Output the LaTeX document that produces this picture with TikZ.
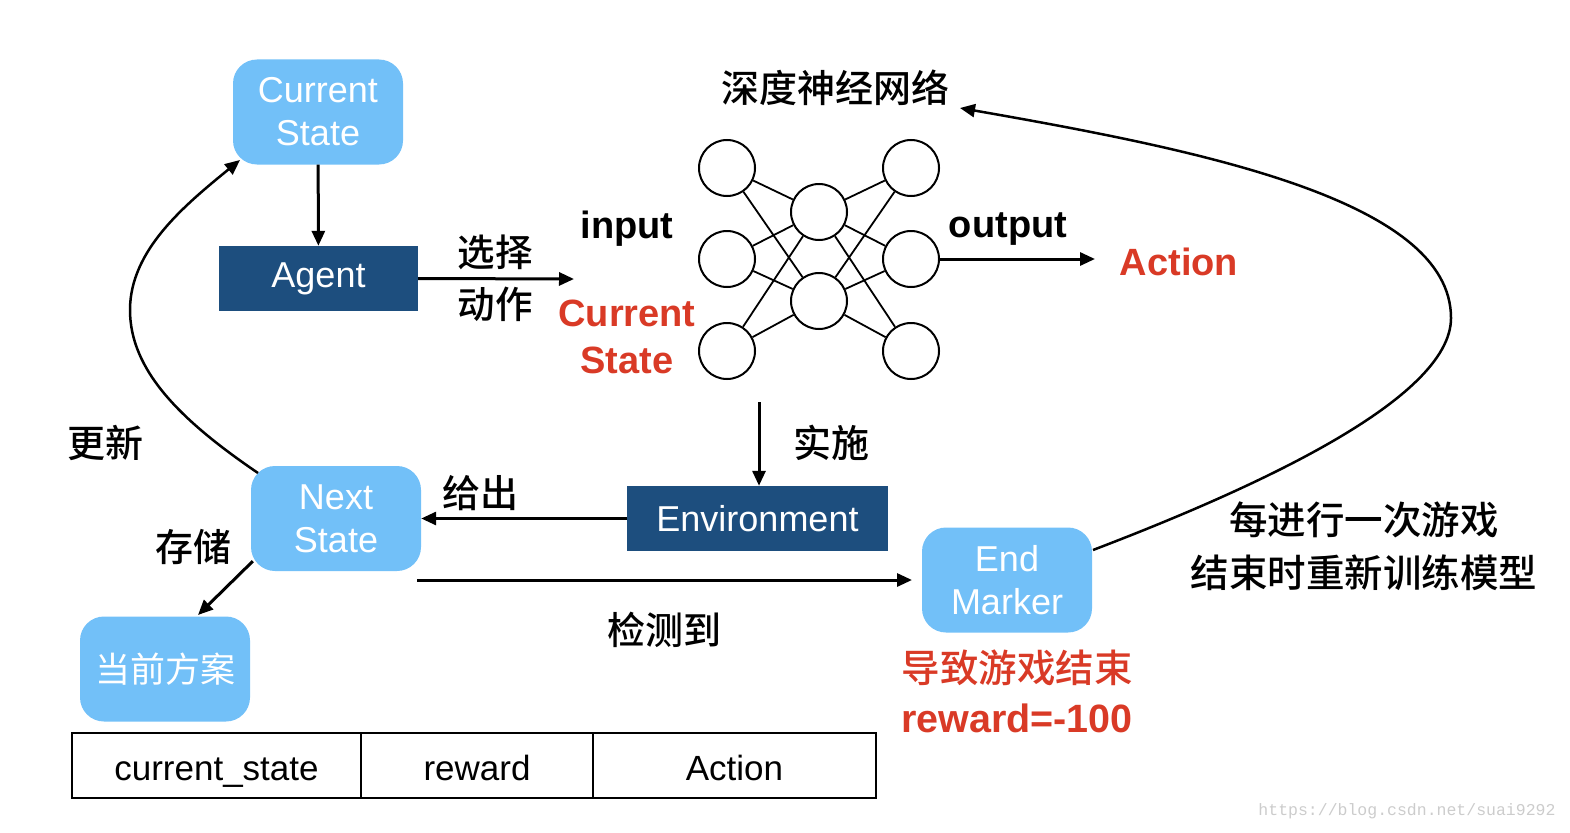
\documentclass[tikz,border=0pt]{standalone}
\usepackage{fontspec}
\setmainfont{Liberation Sans}
\newfontfamily\cjk{Noto Sans CJK SC}
\newfontfamily\cjkm{Noto Sans CJK SC Medium}
\newfontfamily\wmfont{Liberation Mono}
\usetikzlibrary{arrows.meta}
\definecolor{lb}{RGB}{114,192,248}
\definecolor{db}{RGB}{29,78,126}
\definecolor{rd}{RGB}{217,58,38}
\begin{document}
\begin{tikzpicture}[x=1pt,y=-1pt,
  lbox/.style={rectangle,rounded corners=24pt,fill=lb,text=white,minimum width=170pt,minimum height=105pt,align=center,inner sep=0pt,font=\fontsize{36}{43}\selectfont},
  dbox/.style={rectangle,fill=db,text=white,minimum height=65pt,inner sep=0pt,font=\fontsize{36}{43}\selectfont},
  neuron/.style={circle,draw,line width=2pt,minimum size=56pt,inner sep=0pt},
  nnline/.style={line width=1.8pt},
  arr/.style={line width=3pt,-{Triangle[length=15pt,width=13pt]}},
  curv/.style={line width=2.5pt,-{Triangle[length=15pt,width=13pt]}},
  cjklab/.style={inner sep=0pt,font=\cjkm\fontsize{38}{45}\selectfont},
  latlab/.style={inner sep=0pt,font=\bfseries\fontsize{38}{46}\selectfont},
  cell/.style={rectangle,draw,line width=1.5pt,minimum height=65pt,inner sep=0pt,text height=29pt,text depth=0pt,font=\fontsize{35}{42}\selectfont}
]
\useasboundingbox (0,0) rectangle (1570,832);

% boxes
\node[lbox] (cs) at (318,112) {Current\\State};
\node[dbox,minimum width=199pt] (agent) at (318.5,278.5) {Agent};
\node[lbox] (ns) at (336,518.5) {Next\\State};
\node[dbox,minimum width=261pt] (env) at (757.5,518.5) {Environment};
\node[lbox] (em) at (1007,580) {End\\Marker};
\node[lbox,font=\cjk\fontsize{35}{42}\selectfont] (plan) at (165,669) {当前方案};

% neural network
\node[neuron] (i1) at (727,168) {};
\node[neuron] (i2) at (727,259) {};
\node[neuron] (i3) at (727,351) {};
\node[neuron] (h1) at (819,212) {};
\node[neuron] (h2) at (819,301) {};
\node[neuron] (o1) at (911,168) {};
\node[neuron] (o2) at (911,259) {};
\node[neuron] (o3) at (911,351) {};
\foreach \a in {i1,i2,i3}{\foreach \b in {h1,h2}{\draw[nnline] (\a) -- (\b);}}
\foreach \a in {h1,h2}{\foreach \b in {o1,o2,o3}{\draw[nnline] (\a) -- (\b);}}

% labels
\node[cjklab] (dnn) at (835,88) {深度神经网络};
\node[latlab] (inp) at (627,229) {input};
\node[latlab] (outp) at (1008,229) {output};
\node[latlab,text=rd] (act) at (1179,262) {Action};
\node[latlab,text=rd,align=center,font=\bfseries\fontsize{38}{47}\selectfont] (rcs) at (627,337) {Current\\State};
\node[cjklab,font=\cjkm\fontsize{37.5}{45}\selectfont] (sel1) at (495,252) {选择};
\node[cjklab,font=\cjkm\fontsize{37.5}{45}\selectfont] (sel2) at (495,304) {动作};
\node[cjklab] (ss) at (831,443) {实施};
\node[cjklab] (gc) at (480,493) {给出};
\node[cjklab] (gx) at (105,443) {更新};
\node[cjklab] (cc) at (193,547) {存储};
\node[cjklab] (jc) at (664,630) {检测到};
\node[cjklab,align=center,font=\cjkm\fontsize{38.5}{53}\selectfont] (retrain) at (1364,546) {每进行一次游戏\\结束时重新训练模型};
\node[cjklab,text=rd,font=\cjkm\fontsize{38.5}{46}\selectfont] (end1) at (1017,668) {导致游戏结束};
\node[latlab,text=rd,font=\bfseries\fontsize{39.5}{46}\selectfont] (end2) at (1017,718) {reward=-100};

% table
\node[cell,minimum width=289pt] (c1) at (216.5,765.5) {current\_state};
\node[cell,minimum width=232pt] (c2) at (477,765.5) {reward};
\node[cell,minimum width=283pt] (c3) at (734.5,765.5) {Action};

% watermark
\node[inner sep=0pt,text=black!20,font=\wmfont\fontsize{16.5}{20}\selectfont] (wm) at (1407,811) {https://blog.csdn.net/suai9292};

% coordinates
\coordinate (selend) at (574,279);
\coordinate (outend) at (1095,259);
\coordinate (nnb) at (759,402);
\coordinate (d0) at (417,580);
\coordinate (d1) at (912,580);
\coordinate (ccs) at ([shift={(2,-10)}]ns.south west);
\coordinate (cce) at (198,615);
\coordinate (gxs) at (258,473);
\coordinate (gxm) at (130,310);
\coordinate (gxe) at (240,160);
\coordinate (bcs) at (1093,550);
\coordinate (bcm) at (1451,318);
\coordinate (bce) at (960,108);

% connectors
\draw[arr] (cs) -- (agent);
\draw[arr] (agent.east) -- (selend);
\draw[arr] (o2) -- (outend);
\draw[arr] (nnb) -- (nnb |- env.north);
\draw[arr] (env.west) -- (ns.east);
\draw[arr] (d0) -- (d1);
\draw[arr] (ccs) -- (cce);
\draw[curv] (gxs) .. controls (180,420) and (130,370) .. (gxm) .. controls (130,250) and (185,205) .. (gxe);
\draw[curv] (bcs) .. controls (1250,490) and (1451,400) .. (bcm) .. controls (1451,200) and (1200,150) .. (bce);
\end{tikzpicture}
\end{document}
